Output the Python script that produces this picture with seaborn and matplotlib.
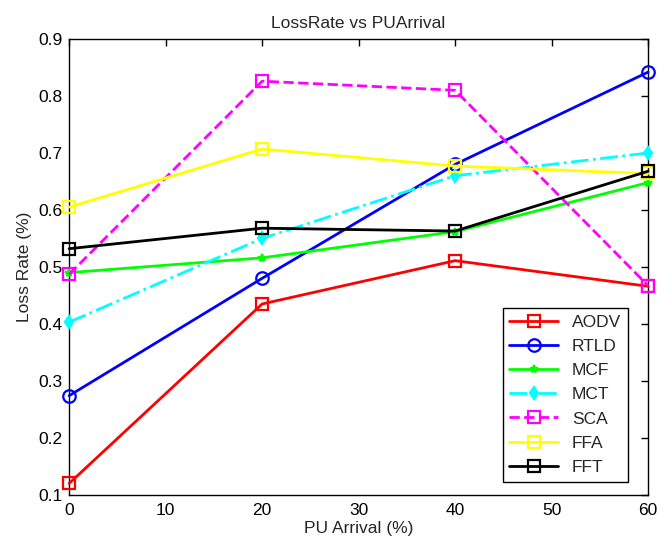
import numpy as np
import matplotlib
matplotlib.use("Agg")
import matplotlib.pyplot as plt
import seaborn as sns
import pandas as pd

# Datos
pu_arrival = [0, 20, 40, 60]
aodv = [0.120, 0.435, 0.511, 0.466]
rtld = [0.274, 0.480, 0.680, 0.842]
mcf = [0.490, 0.516, 0.562, 0.648]
mct = [0.403, 0.550, 0.660, 0.700]
sca = [0.487, 0.826, 0.810, 0.467]
ffa = [0.605, 0.707, 0.677, 0.664]
fft = [0.532, 0.568, 0.563, 0.668]

series = ['AODV', 'RTLD', 'MCF', 'MCT', 'SCA', 'FFA', 'FFT']
valores = [aodv, rtld, mcf, mct, sca, ffa, fft]

estilos = {
    'AODV': dict(color='#ff0000', marker='s', linestyle='-', markersize=8, mfc='none'),
    'RTLD': dict(color='#0000ff', marker='o', linestyle='-', markersize=9, mfc='none'),
    'MCF': dict(color='#00ff00', marker='*', linestyle='-', markersize=6, mfc='#00ff00'),
    'MCT': dict(color='#00ffff', marker='d', linestyle='-.', markersize=6, mfc='#00ffff'),
    'SCA': dict(color='#ff00ff', marker='s', linestyle='--', markersize=8, mfc='none'),
    'FFA': dict(color='#ffff00', marker='s', linestyle='-', markersize=8, mfc='none'),
    'FFT': dict(color='#000000', marker='s', linestyle='-', markersize=8, mfc='none'),
}

sns.set_style("white")
plt.rcParams['font.family'] = ['Liberation Sans', 'DejaVu Sans']
fs = 12.5

fig = plt.figure(figsize=(6.58, 5.42), dpi=100)
ax = fig.add_axes([0.105, 0.087, 0.880, 0.841])

for nombre, vals in zip(series, valores):
    df = pd.DataFrame({'x': pu_arrival, 'y': vals})
    e = estilos[nombre]
    sns.lineplot(data=df, x='x', y='y', ax=ax, color=e['color'],
                 marker=e['marker'], linestyle=e['linestyle'],
                 markersize=e['markersize'], markerfacecolor=e['mfc'],
                 markeredgecolor=e['color'], markeredgewidth=1.6,
                 linewidth=2, label=nombre, clip_on=False, zorder=3)

ax.set_xlim(0, 60)
ax.set_ylim(0.1, 0.9)
ax.set_xticks(np.arange(0, 61, 10))
ax.set_yticks(np.arange(0.1, 0.91, 0.1))
ax.set_yticklabels([f'{v:.1f}' for v in np.arange(0.1, 0.91, 0.1)])
ax.tick_params(direction='in', length=5, width=1, top=True, right=True,
               labelsize=fs, colors='black')
ax.tick_params(axis='x', pad=6)
ax.tick_params(axis='y', pad=5)
for s in ax.spines.values():
    s.set_visible(True)
    s.set_color('black')
    s.set_linewidth(1)

ax.set_xlabel('PU Arrival (%)', fontsize=fs, labelpad=2)
ax.set_ylabel('Loss Rate (%)', fontsize=fs, labelpad=4)
ax.set_title('LossRate vs PUArrival', fontsize=fs, pad=8)

leg = ax.legend(loc='lower right', bbox_to_anchor=(0.9655, 0.0285),
                fontsize=fs, frameon=True, fancybox=False,
                edgecolor='black', borderaxespad=0, handlelength=2.8,
                labelspacing=0.52, framealpha=1)
leg.get_frame().set_linewidth(1)
leg.set_zorder(5)

fig.savefig('out.png', dpi=100)
